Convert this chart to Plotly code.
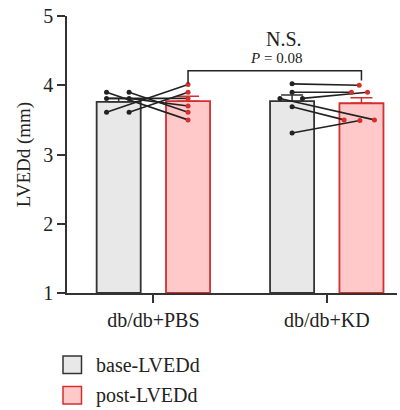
import plotly.graph_objects as go

# ---- data ----
categories = ["db/db+PBS", "db/db+KD"]
series_names = ["base-LVEDd", "post-LVEDd"]
base_mean = [3.76, 3.77]
post_mean = [3.77, 3.74]
base_err = [0.05, 0.09]
post_err = [0.07, 0.08]

# individual animals (paired)
pbs_base = [3.90, 3.90, 3.61, 3.61, 3.81, 3.81]
pbs_post = [3.50, 3.61, 4.01, 3.90, 3.81, 3.70]
kd_base = [4.02, 3.90, 3.81, 3.81, 3.69, 3.31]
kd_post = [4.00, 3.90, 3.90, 3.50, 3.50, 3.49]

y_ticks = [1, 2, 3, 4, 5]
p_text = "<i>P</i> = 0.08"
sig_text = "N.S."

# ---- style / layout helpers ----
W, H = 400, 410
ML, MR, MT, MB = 67, 3, 16, 117
FONT = "Liberation Serif"
BAR_W = 0.254
OFF = 0.2
base_jit = {0: [-0.07, 0.06, -0.07, 0.06, -0.07, 0.06], 1: [0, 0, 0.06, -0.07, 0, 0]}
post_jit = {0: [0, 0, 0, 0, 0, 0], 1: [-0.013, -0.058, 0.035, 0.075, -0.10, -0.009]}
BASE_FILL, BASE_LINE = "#e8e8e8", "#333333"
POST_FILL, POST_LINE = "#ffc9c9", "#d32f2f"

xs = list(range(len(categories)))
fig = go.Figure()
fig.add_trace(go.Bar(
    x=[i - OFF for i in xs], y=[m - 1 for m in base_mean], base=1, width=BAR_W,
    marker=dict(color=BASE_FILL, line=dict(color=BASE_LINE, width=1.8)),
    error_y=dict(type="data", array=base_err, arrayminus=[0] * 2, symmetric=False,
                 color=BASE_LINE, thickness=1.5, width=11),
    showlegend=False, name=series_names[0]))
fig.add_trace(go.Bar(
    x=[i + OFF for i in xs], y=[m - 1 for m in post_mean], base=1, width=BAR_W,
    marker=dict(color=POST_FILL, line=dict(color=POST_LINE, width=1.8)),
    error_y=dict(type="data", array=post_err, arrayminus=[0] * 2, symmetric=False,
                 color=POST_LINE, thickness=1.5, width=11),
    showlegend=False, name=series_names[1]))

groups = {0: (pbs_base, pbs_post), 1: (kd_base, kd_post)}
for g, (b, p) in groups.items():
    for k in range(len(b)):
        xb = g - OFF + base_jit[g][k]
        xp = g + OFF + post_jit[g][k]
        fig.add_trace(go.Scatter(x=[xb, xp], y=[b[k], p[k]], mode="lines",
                                 line=dict(color="#222222", width=1.6),
                                 showlegend=False, hoverinfo="skip"))
    fig.add_trace(go.Scatter(x=[g - OFF + j for j in base_jit[g]], y=b, mode="markers",
                             marker=dict(color="#222222", size=5), showlegend=False))
    fig.add_trace(go.Scatter(x=[g + OFF + j for j in post_jit[g]], y=p, mode="markers",
                             marker=dict(color=POST_LINE, size=5), showlegend=False))

# significance bracket
left_top = max(pbs_post) + 0.02
right_top = max(kd_post) + 0.07
bracket_y = 4.21
fig.add_shape(type="path", xref="x", yref="y",
              path=f"M {0 + OFF},{left_top} L {0 + OFF},{bracket_y} L {1 + OFF},{bracket_y} L {1 + OFF},{right_top}",
              line=dict(color="#222222", width=1.5))
fig.add_annotation(x=0.71, y=4.39, xref="x", yref="y", text=p_text, showarrow=False,
                   font=dict(family=FONT, size=15, color="#222222"))
fig.add_annotation(x=0.755, y=4.67, xref="x", yref="y", text=sig_text, showarrow=False,
                   font=dict(family=FONT, size=20, color="#222222"))

# custom legend
pw, ph = W - ML - MR, H - MT - MB
def px(x): return (x - ML) / pw
def py(y): return (H - MB - y) / ph
for i, (nm, fc, lc) in enumerate([(series_names[0], BASE_FILL, BASE_LINE),
                                   (series_names[1], POST_FILL, POST_LINE)]):
    top = 356 + i * 30.5
    fig.add_shape(type="rect", xref="paper", yref="paper",
                  x0=px(63), x1=px(81.5), y0=py(top + 17.5), y1=py(top),
                  fillcolor=fc, line=dict(color=lc, width=1.5))
    fig.add_annotation(x=px(94), y=py(top + 9), xref="paper", yref="paper",
                       text=nm, showarrow=False, xanchor="left", yanchor="middle",
                       font=dict(family=FONT, size=20, color="#222222"))

axis_common = dict(showline=True, linecolor="#333333", linewidth=1.5, ticks="outside",
                   ticklen=8, tickwidth=1.5, tickcolor="#333333", showgrid=False,
                   zeroline=False, tickfont=dict(family=FONT, size=20, color="#222222"))
fig.update_layout(
    width=W, height=H, margin=dict(l=ML, r=MR, t=MT, b=MB),
    plot_bgcolor="white", paper_bgcolor="white", showlegend=False,
    xaxis=dict(range=[-0.498, 1.405], tickvals=xs, ticktext=categories, **axis_common),
    yaxis=dict(range=[1, 5], tickvals=y_ticks, title=dict(text="LVEDd (mm)", standoff=8,
               font=dict(family=FONT, size=19, color="#222222")), **axis_common),
)
fig.write_html("out.html", config={"displayModeBar": False},
               post_script="document.body.style.margin='0';document.body.style.overflow='hidden';")
